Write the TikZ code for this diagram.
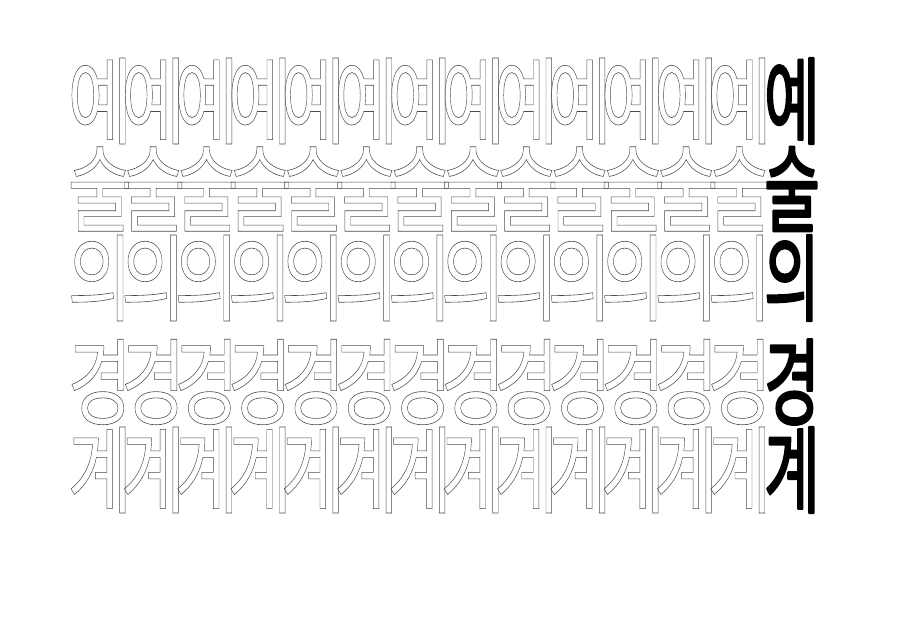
\documentclass[tikz,border=0pt]{standalone}
\usepackage{fontspec}
\newfontfamily\krfont{Noto Sans CJK KR}
\newcommand\outlinetext[1]{\special{pdf:literal direct 1 Tr 0.6 w}#1\special{pdf:literal direct 0 Tr}}
\newcommand\heavytext[1]{\special{pdf:literal direct 2 Tr 2.4 w 1 j}#1\special{pdf:literal direct 0 Tr}}
\tikzset{
  glyph/.style={inner sep=0pt, transform shape, font=\krfont\fontsize{95}{100}\selectfont},
  ghost/.style={glyph, xscale=0.74, text=black!70},
  solid/.style={glyph, xscale=0.64, text=black}
}
\begin{document}
\begin{tikzpicture}[x=1pt,y=-1pt]
\useasboundingbox (0,0) rectangle (900,638);
\fill[white] (0,0) rectangle (900,638);
\foreach \ch/\yy/\nm in {예/101/a,술/189/b,의/278/c,경/382/d,계/470/e}{
  \foreach \i in {0,...,12}{
    \node[ghost] (g\nm\i) at ({100+53.3*\i},\yy) {\outlinetext{\ch}};
  }
  \node[solid] (s\nm) at (792,\yy) {\heavytext{\ch}};
}
\end{tikzpicture}
\end{document}
